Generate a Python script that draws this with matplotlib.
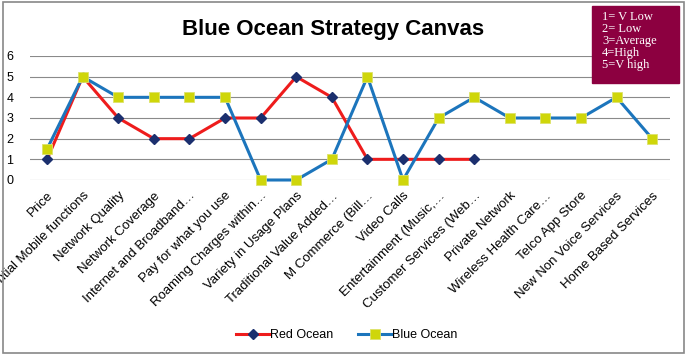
import matplotlib.pyplot as plt
from matplotlib.patches import Rectangle

# categories along the x axis
factors = ['Price', 'Essential Mobile functions', 'Network Quality', 'Network Coverage',
           'Internet and Broadband…', 'Pay for what you use', 'Roaming Charges within…',
           'Variety in Usage Plans', 'Traditional Value Added…', 'M Commerce (Bill…',
           'Video Calls', 'Entertainment (Music,…', 'Customer Services (Web…',
           'Private Network', 'Wireless Health Care…', 'Telco App Store',
           'New Non Voice Services', 'Home Based Services']

red_ocean = [1, 5, 3, 2, 2, 3, 3, 5, 4, 1, 1, 1, 1]
blue_ocean = [1.5, 5, 4, 4, 4, 4, 0, 0, 1, 5, 0, 3, 4, 3, 3, 3, 4, 2]
y_ticks = [0, 1, 2, 3, 4, 5, 6]
scale_text = ['1= V Low', '2= Low', '3=Average', '4=High', '5=V high']

W, H = 687, 357
fig = plt.figure(figsize=(W / 100, H / 100), dpi=100)
plt.rcParams['font.family'] = ['Liberation Sans', 'DejaVu Sans']

# plot area in pixels
left, right, top, bottom = 30, 670, 56, 180
ax = fig.add_axes([left / W, 1 - bottom / H, (right - left) / W, (bottom - top) / H])

x = list(range(len(factors)))
ax.plot(x[:len(red_ocean)], red_ocean, color='#ee1c1c', lw=2.2, marker='D',
        markersize=5.5, markerfacecolor='#1b2f6e', markeredgecolor='#1b2f6e',
        label='Red Ocean', clip_on=False, zorder=3)
ax.plot(x, blue_ocean, color='#1c75bc', lw=2.2, marker='s', markersize=7.5,
        markerfacecolor='#cfd60a', markeredgecolor='#dde26a', markeredgewidth=0.6,
        label='Blue Ocean', clip_on=False, zorder=4)

ax.set_xlim(-0.48, len(factors) - 0.5)
ax.set_ylim(0, 6)
ax.set_yticks(y_ticks)
ax.yaxis.grid(True, color='#8a8a8a', lw=0.8)
ax.set_axisbelow(True)
for s in ax.spines.values():
    s.set_visible(False)
ax.tick_params(axis='y', length=0, labelsize=9, pad=12)
ax.tick_params(axis='x', length=0, labelsize=9.5, pad=7)
ax.set_xticks(x)
ax.set_xticklabels(factors, rotation=45, ha='right', rotation_mode='anchor')

fig.text(333 / W, 1 - 35 / H, 'Blue Ocean Strategy Canvas', ha='center', va='baseline',
         fontsize=16, fontweight='bold')

# scale key box
fig.patches.append(Rectangle((592 / W, 1 - 83 / H), 87 / W, 77 / H,
                             transform=fig.transFigure, color='#8c0040', zorder=5))
for i, t in enumerate(scale_text):
    fig.text(602 / W, 1 - (17 + 12 * i) / H, t, ha='left', va='center', fontsize=9,
             color='white', family=['Liberation Serif', 'DejaVu Serif'], zorder=6)

leg = fig.legend(loc='center', bbox_to_anchor=(347 / W, 1 - 335 / H), ncol=2,
                 frameon=False, fontsize=9, handlelength=2.6, columnspacing=2.0,
                 handletextpad=0.1)

# outer border
fig.patches.append(Rectangle((3 / W, 1 - 353 / H), 681 / W, 351 / H,
                             transform=fig.transFigure, fill=False,
                             edgecolor='#888888', lw=1.2))

fig.savefig('out.png', dpi=100)
